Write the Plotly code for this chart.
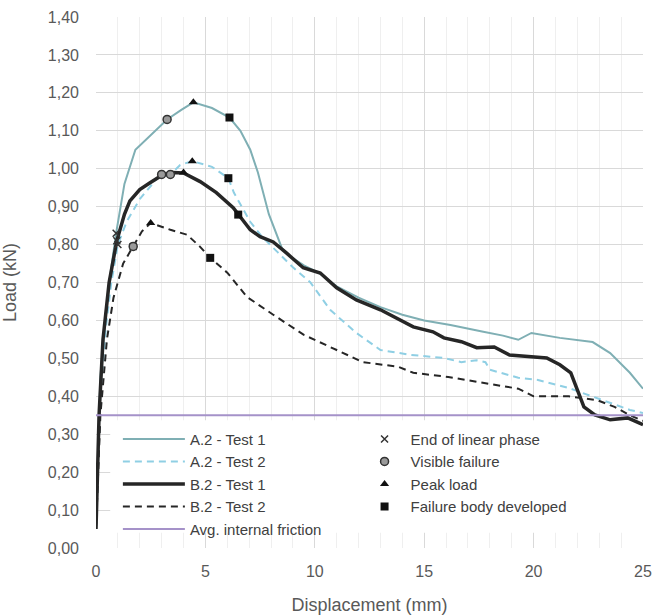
import plotly.graph_objects as go

# ---- curve data (displacement mm, load kN) ----
a2_t1_x = [0, 0.2, 0.45, 0.64, 0.92, 1.3, 1.8, 2.3, 3.25, 3.9, 4.45, 5.3, 6.1, 6.6, 7.05, 7.4, 7.9, 8.5, 8.9, 9.5,
           10.2, 11.0, 12.0, 13.0, 14.0, 15.0, 16.2, 17.7, 18.6, 19.3, 19.9, 21.2, 22.7, 23.5, 24.4, 25.0]
a2_t1_y = [0.05, 0.45, 0.62, 0.715, 0.83, 0.96, 1.05, 1.077, 1.13, 1.155, 1.175, 1.16, 1.135, 1.1, 1.05, 0.99, 0.88,
           0.79, 0.768, 0.745, 0.725, 0.69, 0.66, 0.635, 0.615, 0.60, 0.588, 0.57, 0.56, 0.549, 0.567, 0.554, 0.543,
           0.514, 0.462, 0.42]

a2_t2_x = [0, 0.2, 0.45, 0.7, 1.0, 1.4, 2.0, 2.8, 3.4, 3.85, 4.4, 5.3, 6.05, 6.3, 7.05, 7.6, 8.3, 9.0, 9.8, 10.7,
           11.9, 13.0, 14.4, 15.9, 16.7, 17.4, 17.8, 18.0, 19.3, 20.2, 21.6, 23.1, 24.4, 25.0]
a2_t2_y = [0.05, 0.4, 0.58, 0.7, 0.8, 0.86, 0.92, 0.975, 0.985, 1.01, 1.02, 1.005, 0.975, 0.937, 0.86, 0.82, 0.78,
           0.74, 0.70, 0.628, 0.567, 0.522, 0.509, 0.501, 0.49, 0.495, 0.49, 0.47, 0.449, 0.443, 0.422, 0.39, 0.364,
           0.356]

b2_t1_x = [0, 0.14, 0.32, 0.6, 0.95, 1.3, 1.55, 2.0, 2.47, 3.07, 3.5, 4.0, 4.76, 5.5, 6.27, 6.5, 7.05, 7.5, 8.1,
           8.7, 9.47, 10.25, 11.0, 11.9, 13.0, 14.5, 15.4, 15.9, 16.7, 17.4, 18.2, 18.9, 20.6, 21.2, 21.7, 22.0,
           22.3, 22.8, 23.5, 24.3, 25.0]
b2_t1_y = [0.05, 0.35, 0.55, 0.70, 0.81, 0.88, 0.915, 0.945, 0.963, 0.985, 0.99, 0.989, 0.966, 0.937, 0.897, 0.879,
           0.839, 0.821, 0.807, 0.778, 0.739, 0.725, 0.686, 0.654, 0.628, 0.583, 0.57, 0.554, 0.544, 0.528, 0.53,
           0.509, 0.501, 0.483, 0.462, 0.417, 0.372, 0.351, 0.338, 0.343, 0.325]

b2_t2_x = [0, 0.2, 0.5, 0.8, 1.24, 1.7, 2.1, 2.5, 3.4, 4.16, 4.76, 5.22, 6.0, 6.45, 6.9, 8.1, 9.5, 11.0, 12.2,
           13.8, 14.5, 16.1, 17.7, 19.3, 20.0, 21.6, 22.9, 23.7, 24.4, 25.0]
b2_t2_y = [0.05, 0.35, 0.55, 0.66, 0.75, 0.795, 0.835, 0.857, 0.839, 0.826, 0.794, 0.765, 0.726, 0.694, 0.662,
           0.615, 0.562, 0.522, 0.49, 0.478, 0.462, 0.451, 0.435, 0.42, 0.40, 0.40, 0.39, 0.372, 0.35, 0.335]

friction_x = [0, 25]
friction_y = [0.35, 0.35]

# ---- event markers (A.2-T1, A.2-T2, B.2-T1, B.2-T2) ----
linear_end_x = [0.92, 1.0, 0.95, 1.7]
linear_end_y = [0.83, 0.80, 0.81, 0.795]
visible_fail_x = [3.25, 3.4, 3.0, 1.7]
visible_fail_y = [1.13, 0.985, 0.985, 0.795]
peak_x = [4.45, 4.4, 4.0, 2.5]
peak_y = [1.175, 1.02, 0.99, 0.857]
body_x = [6.1, 6.05, 6.5, 5.22]
body_y = [1.135, 0.975, 0.879, 0.765]

y_ticks = [0.0, 0.1, 0.2, 0.3, 0.4, 0.5, 0.6, 0.7, 0.8, 0.9, 1.0, 1.1, 1.2, 1.3, 1.4]
x_ticks = [0, 5, 10, 15, 20, 25]

FONT = "Liberation Sans, Arial, sans-serif"

fig = go.Figure()

line_specs = [
    ("A.2 - Test 1", a2_t1_x, a2_t1_y, dict(color="#7fafb4", width=2)),
    ("A.2 - Test 2", a2_t2_x, a2_t2_y, dict(color="#8fcfe4", width=2, dash="7px,5px")),
    ("B.2 - Test 1", b2_t1_x, b2_t1_y, dict(color="#262626", width=3.5)),
    ("B.2 - Test 2", b2_t2_x, b2_t2_y, dict(color="#262626", width=2, dash="7px,5px")),
    ("Avg. internal friction", friction_x, friction_y, dict(color="#a592c9", width=2)),
]
for name, xs, ys, ln in line_specs:
    fig.add_trace(go.Scatter(x=xs, y=ys, mode="lines", name=name, line=ln, legend="legend"))

marker_specs = [
    ("End of linear phase", linear_end_x, linear_end_y,
     dict(symbol="x-thin-open", size=7, color="#333333", line=dict(width=1.5, color="#333333"))),
    ("Visible failure", visible_fail_x, visible_fail_y,
     dict(symbol="circle", size=8, color="#9a9a9a", line=dict(width=1.5, color="#333333"))),
    ("Peak load", peak_x, peak_y,
     dict(symbol="triangle-up", size=8, color="#111111")),
    ("Failure body developed", body_x, body_y,
     dict(symbol="square", size=8, color="#111111")),
]
for name, xs, ys, mk in marker_specs:
    fig.add_trace(go.Scatter(x=xs, y=ys, mode="markers", name=name, marker=mk, legend="legend2"))

# white panel behind the legends (covers gridlines, stays under traces)
fig.add_shape(type="rect", xref="x", yref="y", x0=0.65, x1=25, y0=0.04, y1=0.337,
              fillcolor="white", line=dict(width=0), layer="between")

fig.update_layout(
    width=654, height=615,
    margin=dict(l=96, r=11, t=17, b=67, autoexpand=False),
    paper_bgcolor="white", plot_bgcolor="white",
    separators=", ",
    font=dict(family=FONT, color="#595959"),
    legend=dict(x=0.04, y=0.236, xanchor="left", yanchor="top", bgcolor="rgba(0,0,0,0)",
                itemwidth=62, font=dict(size=15, color="#404040"), borderwidth=0,
                itemclick=False, itemdoubleclick=False),
    legend2=dict(x=0.48, y=0.236, xanchor="left", yanchor="top", bgcolor="rgba(0,0,0,0)",
                 itemwidth=42, font=dict(size=15, color="#404040"), borderwidth=0,
                 itemclick=False, itemdoubleclick=False),
    xaxis=dict(range=[0, 25], tickvals=x_ticks, showgrid=True, gridcolor="#d9d9d9", gridwidth=1,
               minor=dict(dtick=1, showgrid=True, gridcolor="#efefef"), automargin=False,
               zeroline=False, showline=False, ticks="", ticklabelstandoff=12,
               tickfont=dict(size=16, color="#595959"),
               title=dict(text="Displacement (mm)", font=dict(size=18, color="#595959"), standoff=20)),
    yaxis=dict(range=[0, 1.4], tickvals=y_ticks, tickformat=".2f", showgrid=True, gridcolor="#d9d9d9",
               gridwidth=1, zeroline=False, showline=False, ticks="", ticklabelstandoff=16, automargin=False,
               tickfont=dict(size=16, color="#595959"),
               title=dict(text="Load (kN)", font=dict(size=18, color="#595959"), standoff=26)),
    showlegend=True,
)

fig.write_html("out.html")
